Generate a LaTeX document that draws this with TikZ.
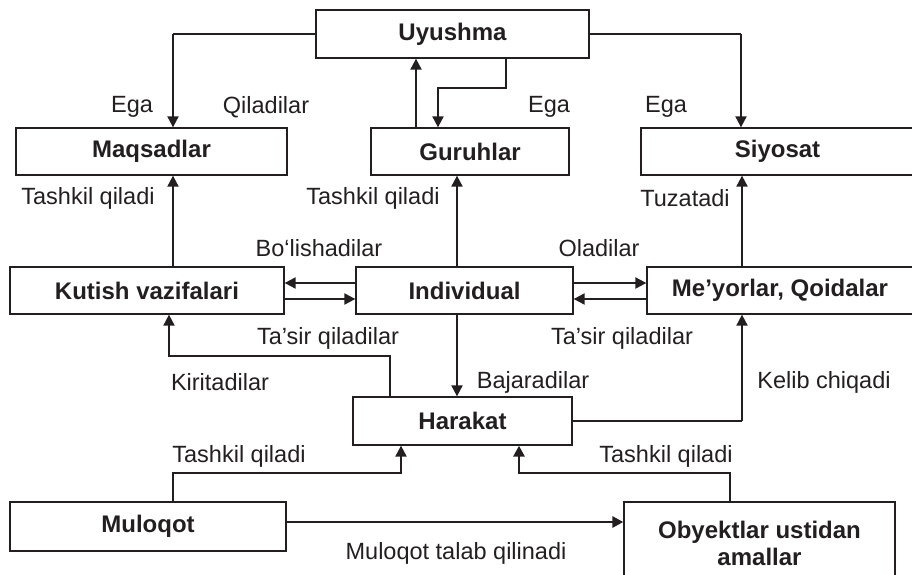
\documentclass[tikz,border=0pt]{standalone}
\usepackage{fontspec}
\setmainfont{Liberation Sans}
\usetikzlibrary{arrows.meta}
\definecolor{ink}{RGB}{35,31,32}
\begin{document}
\begin{tikzpicture}[x=1pt,y=-1pt,
  box/.style={draw=ink, line width=1.3pt, font=\fontsize{24}{27}\selectfont\bfseries, text=ink, inner sep=0pt, align=center},
  lbl/.style={font=\fontsize{23.5}{28}\selectfont, text=ink, inner sep=0pt},
  arr/.style={draw=ink, line width=2pt, -{Triangle[length=11pt,width=11pt]}},
  ln/.style={draw=ink, line width=1.3pt},
]
\clip (0,0) rectangle (912,575);
% boxes
\node[box, minimum width=273pt, minimum height=48pt] (uy) at (452.5,34) {Uyushma};
\node[box, minimum width=271pt, minimum height=47pt] (maq) at (151.5,151.5) {Maqsadlar};
\node[box, minimum width=198pt, minimum height=47pt] (gur) at (470,151.5) {Guruhlar};
\node[box, minimum width=273pt, minimum height=47pt] (siy) at (777.5,151.5) {Siyosat};
\node[box, minimum width=274pt, minimum height=47pt] (kut) at (147,290.5) {Kutish vazifalari};
\node[box, minimum width=217pt, minimum height=47pt] (ind) at (464.5,290.5) {Individual};
\node[box, minimum width=266pt, minimum height=47pt] (mey) at (780,290.5) {Me’yorlar, Qoidalar};
\node[box, minimum width=219pt, minimum height=48pt] (har) at (462.5,421) {Harakat};
\node[box, minimum width=276pt, minimum height=49pt] (mul) at (148,526.5) {Muloqot};
\node[box, minimum width=271pt, minimum height=83pt] (oby) at (759.5,543.5) {Obyektlar ustidan\\amallar};
% helper coordinates
\coordinate (a1) at (173,34);
\coordinate (a2) at (741,34);
\coordinate (g1) at (416,0);
\coordinate (g2) at (506,88);
\coordinate (g3) at (438,88);
\coordinate (k1) at (173,0);
\coordinate (i1) at (457,0);
\coordinate (m1) at (742,0);
\coordinate (h1) at (0,283);
\coordinate (h2) at (0,299);
\coordinate (r1) at (390,356);
\coordinate (r2) at (169,356);
\coordinate (r3) at (742,421);
\coordinate (b1) at (173,473);
\coordinate (b2) at (401,473);
\coordinate (b3) at (730,473);
\coordinate (b4) at (519,473);
\coordinate (h3) at (0,522);
% connectors
\draw[ln] (uy.west) -- (a1);
\draw[arr] (a1) -- (a1 |- maq.north);
\draw[ln] (uy.east) -- (a2);
\draw[arr] (a2) -- (a2 |- siy.north);
\draw[arr] (g1 |- gur.north) -- (g1 |- uy.south);
\draw[arr] (g2 |- uy.south) -- (g2) -- (g3) -- (g3 |- gur.north);
\draw[arr] (k1 |- kut.north) -- (k1 |- maq.south);
\draw[arr] (i1 |- ind.north) -- (i1 |- gur.south);
\draw[arr] (m1 |- mey.north) -- (m1 |- siy.south);
\draw[arr] (h1 -| ind.west) -- (h1 -| kut.east);
\draw[arr] (h2 -| kut.east) -- (h2 -| ind.west);
\draw[arr] (h1 -| ind.east) -- (h1 -| mey.west);
\draw[arr] (h2 -| mey.west) -- (h2 -| ind.east);
\draw[arr] (r1 |- har.north) -- (r1) -- (r2) -- (r2 |- kut.south);
\draw[arr] (i1 |- ind.south) -- (i1 |- har.north);
\draw[ln] (har.east) -- (r3);
\draw[arr] (r3) -- (r3 |- mey.south);
\draw[arr] (b1 |- mul.north) -- (b1) -- (b2) -- (b2 |- har.south);
\draw[arr, line width=2.8pt] (b3 |- oby.north) -- (b3) -- (b4) -- (b4 |- har.south);
\draw[arr, line width=2.8pt] (h3 -| mul.east) -- (h3 -| oby.west);
% labels
\node[lbl] (t1) at (132,107) {Ega};
\node[lbl] (t2) at (266,107) {Qiladilar};
\node[lbl] (t3) at (549,107) {Ega};
\node[lbl] (t4) at (666,107) {Ega};
\node[lbl] (t5) at (88,198) {Tashkil qiladi};
\node[lbl] (t6) at (373,198) {Tashkil qiladi};
\node[lbl] (t7) at (685,198) {Tuzatadi};
\node[lbl] (t8) at (319,248) {Bo‘lishadilar};
\node[lbl] (t9) at (599,248) {Oladilar};
\node[lbl] (t10) at (328,338) {Ta’sir qiladilar};
\node[lbl] (t11) at (622,338) {Ta’sir qiladilar};
\node[lbl] (t12) at (220,382) {Kiritadilar};
\node[lbl] (t13) at (533,382) {Bajaradilar};
\node[lbl] (t14) at (824,382) {Kelib chiqadi};
\node[lbl] (t15) at (239,456) {Tashkil qiladi};
\node[lbl] (t16) at (666,456) {Tashkil qiladi};
\node[lbl] (t17) at (456,553) {Muloqot talab qilinadi};
\end{tikzpicture}
\end{document}
